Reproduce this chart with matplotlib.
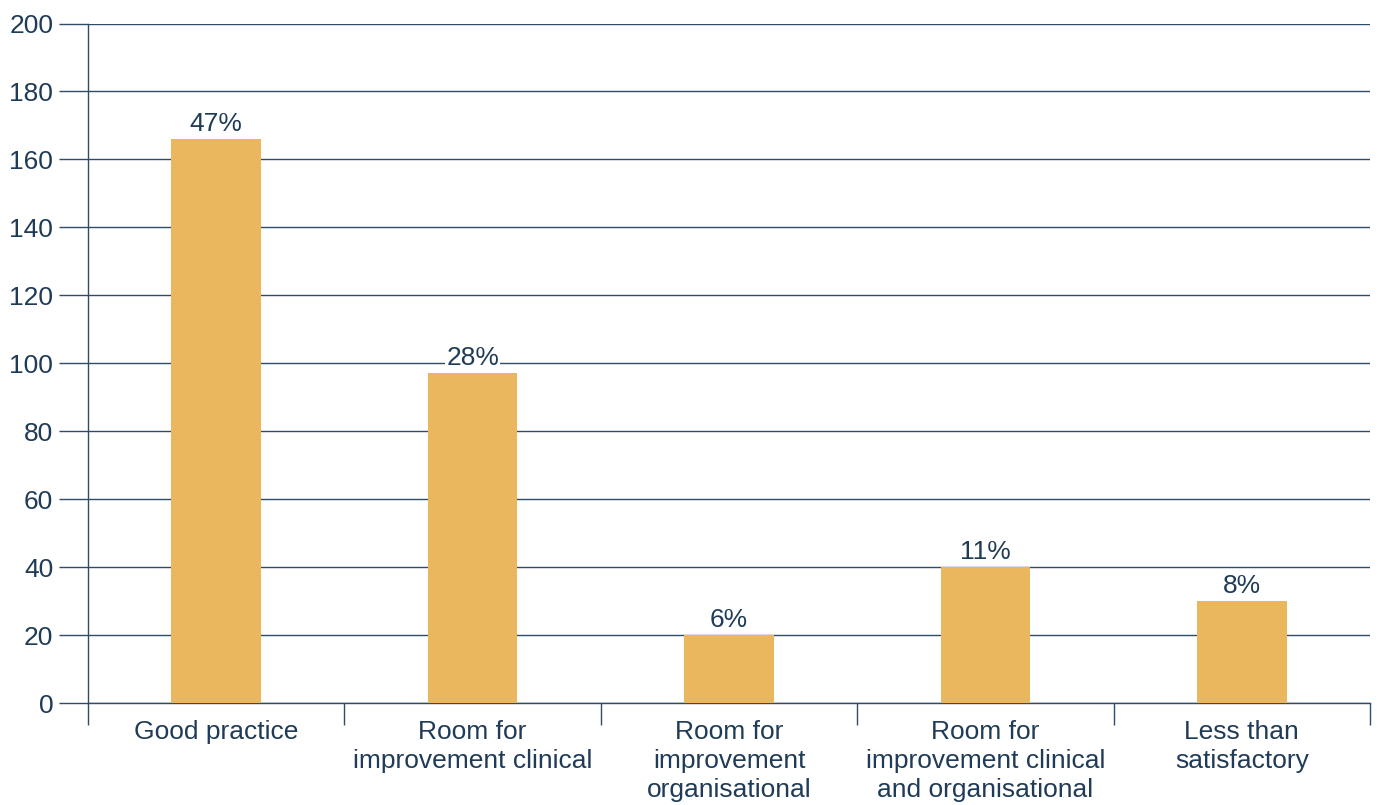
import matplotlib
matplotlib.use("Agg")
import matplotlib.pyplot as plt
import numpy as np

# categories, counts and the share labels printed above each bar
categories = [
    "Good practice",
    "Room for\nimprovement clinical",
    "Room for\nimprovement\norganisational",
    "Room for\nimprovement clinical\nand organisational",
    "Less than\nsatisfactory",
]
counts = [166, 97, 20, 40, 30]
share_labels = ["47%", "28%", "6%", "11%", "8%"]
y_ticks = list(range(0, 201, 20))

BAR_COLOR = "#EBB75E"
LINE_COLOR = "#2E4C68"
TEXT_COLOR = "#1F3B57"

plt.rcParams["font.family"] = ["Liberation Sans", "DejaVu Sans"]
plt.rcParams["font.size"] = 19

fig = plt.figure(figsize=(13.79, 8.05), dpi=100)
ax = fig.add_axes([0.0638, 0.1267, 0.9297, 0.8441])

x = np.arange(len(categories))
bars = ax.bar(x, counts, width=0.35, color=BAR_COLOR, zorder=3)

for rect, lab in zip(bars, share_labels):
    ax.annotate(lab, (rect.get_x() + rect.get_width() / 2, rect.get_height()),
                xytext=(0, 2.5), textcoords="offset points",
                ha="center", va="bottom", color=TEXT_COLOR, fontsize=19,
                bbox=dict(facecolor="white", edgecolor="none", pad=1.0),
                zorder=4)

ax.set_xlim(-0.5, len(categories) - 0.5)
ax.set_ylim(0, 200)
ax.set_yticks(y_ticks)

# category names centred, tick marks on the boundaries between them
ax.set_xticks(x)
ax.set_xticklabels(categories, color=TEXT_COLOR, linespacing=1.28)
ax.set_xticks(np.arange(len(categories) + 1) - 0.5, minor=True)
ax.tick_params(axis="x", which="major", length=0, pad=12)
ax.tick_params(axis="x", which="minor", length=16, width=1.0, color=LINE_COLOR)
ax.tick_params(axis="y", length=21, width=1.0, color=LINE_COLOR,
               pad=4, labelcolor=TEXT_COLOR)

ax.grid(axis="y", color=LINE_COLOR, linewidth=1.0, zorder=0)
ax.set_axisbelow(True)

for side in ("top", "right"):
    ax.spines[side].set_visible(False)
for side in ("left", "bottom"):
    ax.spines[side].set_color(LINE_COLOR)
    ax.spines[side].set_linewidth(1.0)

fig.savefig("out.png", dpi=100, facecolor="white")
